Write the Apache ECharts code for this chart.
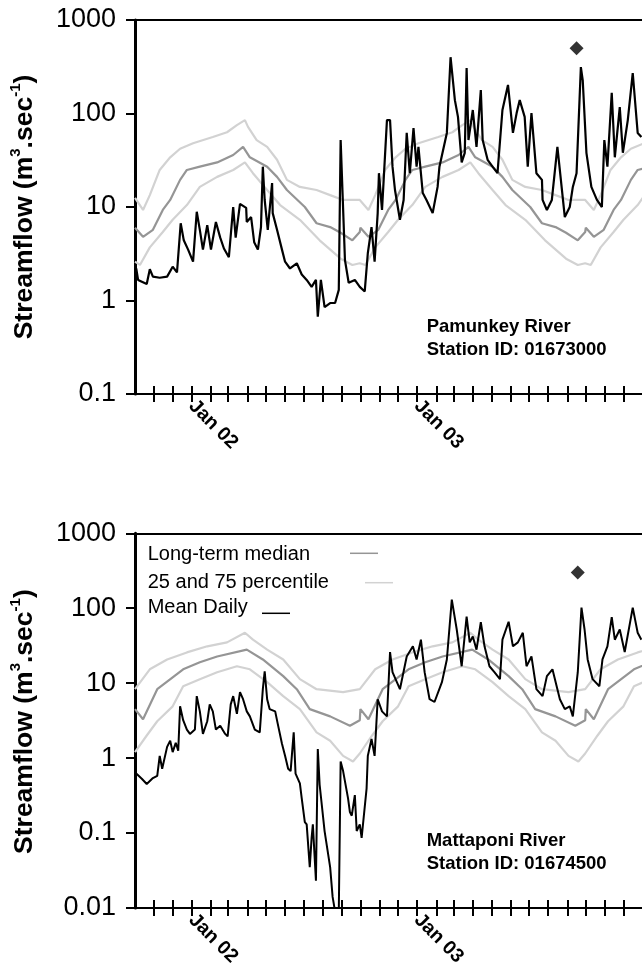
<!DOCTYPE html>
<html><head><meta charset="utf-8">
<script src="https://cdn.jsdelivr.net/npm/echarts@6/dist/echarts.min.js"></script>
<style>html,body{margin:0;padding:0;background:#fff}#c{width:642px;height:969px}</style>
</head><body><div id="c"></div><script>
// ---- time range: days since 2001-10-01 ----
const startDate = [2001, 9, 1];
const lastDay = 821;
const yearTicks = ['Jan 02', 'Jan 03'];

// ---- Pamunkey River, Station 01673000 ----
// long-term statistics, by day of water year (Oct 1 = 0)
const pamUpperDays = [0,13,24,40,57,73,94,126,149,165,178,183,197,214,230,246,267,294,316,337,364];
const pamUpperVals = [12.5,9.3,13.4,24.9,34,42,48,56,63,75,85,72,52,44,32,19.5,16.4,15.2,13.4,11.9,11.9];
const pamMedianDays = [0,13,29,45,57,73,84,105,133,159,175,186,214,230,246,275,294,316,333,352,364];
const pamMedianVals = [6.0,4.8,5.7,9.3,11.9,19.5,24.9,27,30,36,44,34,27,21,15.2,10,6.7,6.1,5.3,4.4,5.4];
const pamLowerDays = [0,8,24,45,61,84,105,133,159,178,191,214,235,267,299,333,352,364];
const pamLowerVals = [2.6,2.4,3.7,5.4,7.3,10.5,16.4,21,24.9,30,23,15.2,10.5,7.3,4.4,2.8,2.4,2.5];
// mean daily flow (day since 2001-10-01)
const pamMeanDays = [2,5,19,24,29,40,52,61,68,74,79,86,94,100,105,110,117,123,131,138,144,152,159,163,170,180,181,188,193,199,204,207,210,215,222,223,230,238,243,251,262,270,278,286,293,296,301,307,316,324,330,333,340,346,356,364,372,377,383,388,393,395,400,408,413,417,421,429,435,440,445,451,456,459,466,472,482,490,493,505,511,518,523,529,534,537,540,547,553,560,563,571,579,587,595,604,612,618,623,631,636,642,650,659,660,667,675,684,696,704,709,715,722,725,731,739,748,756,760,765,772,777,785,790,798,806,814,820];
const pamMeanVals = [2.2,1.66,1.5,2.16,1.8,1.75,1.8,2.3,2.0,6.7,4.4,3.5,2.6,8.9,5.7,3.5,6.4,3.5,6.9,4.7,3.6,2.9,10,4.7,10.8,9.8,6.9,7.8,4.2,3.5,6.1,27,11.9,5.7,18,8.6,5.7,3.5,2.6,2.2,2.5,1.9,1.66,1.4,1.66,0.67,1.66,0.85,0.94,0.94,1.3,52,2.7,1.55,1.66,1.4,1.25,3.2,6.1,2.6,8.6,23,9.3,85,85,27,15.2,7.3,11.9,62,23,70,27,44,14.1,11.9,8.6,16.4,27,62,400,139,92,30,38,307,52,109,44,178,52,32,27,23,109,202,62,101,139,92,27,101,23,19.5,11.9,9.3,11.9,44,7.8,10,16.4,23,314,228,38,16.4,11.9,10,52,27,166,34,117,38,85,271,62,56];
const pamPeakDay = [715];
const pamPeakVal = [500];

// ---- Mattaponi River, Station 01674500 ----
const matUpperDays = [0,24,52,84,117,149,178,191,214,240,267,294,337,364];
const matUpperVals = [8.3,15.3,20.7,25.7,31,35,47,38,28,20.7,11.3,8.3,7.6,8.3];
const matMedianDays = [0,13,36,78,105,133,181,207,240,262,283,316,348,364];
const matMedianVals = [4.5,3.3,8.3,15.3,19,22.7,28,20.7,12.4,8.3,4.5,3.6,2.7,3.2];
const matLowerDays = [0,19,36,61,78,105,133,165,186,214,240,267,294,316,337,353,364];
const matLowerVals = [1.2,2.0,3.1,4.9,9.1,11.3,14,16.8,15.3,10.3,6.7,4.5,2.2,1.7,1.07,0.9,1.15];
const matMeanDays = [2,11,19,29,36,40,44,52,57,60,61,66,70,73,78,84,89,97,100,105,110,117,121,126,131,138,146,150,155,159,165,170,175,181,186,194,202,207,210,214,218,227,231,238,243,248,252,257,260,267,270,275,278,283,286,288,293,296,299,307,316,320,325,330,333,337,345,348,351,356,359,364,367,375,377,383,388,393,400,408,413,417,429,440,450,456,463,469,477,485,497,505,513,521,529,537,542,547,553,560,566,574,582,591,595,605,612,620,628,634,642,650,660,667,676,688,696,704,709,717,723,728,733,741,752,757,765,772,777,785,793,806,814,820];
const matMeanVals = [0.62,0.53,0.45,0.54,0.58,1.07,0.72,1.41,1.7,1.8,1.2,1.6,1.25,4.9,3.2,2.4,2.1,2.4,6.7,4.2,2.1,3.1,5.2,4.2,2.4,2.7,2.1,1.95,5.2,6.7,3.9,7.6,6.1,4.2,3.6,2.4,2.2,8.3,14.4,6.1,4.5,4.2,2.9,1.55,1.07,0.72,0.67,2.2,0.62,0.46,0.29,0.14,0.13,0.035,0.086,0.13,0.023,1.32,0.44,0.106,0.035,0.014,0.008,0.009,0.9,0.67,0.29,0.19,0.17,0.32,0.106,0.13,0.086,0.39,1.07,1.8,1.07,6.1,4.2,3.6,26,14,8.3,22.7,31,20.7,38,14,6.1,5.6,10.3,20.7,130,52,16.8,77,35,42,28,65,31,16.8,14,11.3,38,66,31,35,47,16.8,22.7,8.3,6.7,12.4,15.3,6.1,4.5,4.9,3.6,14,102,52,20.7,11.3,9.1,20.7,31,76,38,52,26,102,47,38];
const matPeakDay = [717];
const matPeakVal = [300];

// ---- build ----
const DAY = 86400000;
const base = Date.UTC(startDate[0], startDate[1], startDate[2]);
const maxTs = base + lastDay * DAY;
function pairs(days, vals) { return days.map((d, i) => [base + d * DAY, vals[i]]); }
function climate(days, vals) {
  const out = [];
  for (let k = 0; k < 3; k++) days.forEach((d, i) => { out.push([base + (d + 365 * k) * DAY, vals[i]]); });
  return out;
}
const monthTicks = [], janTicks = [];
for (let y = 2001; y <= 2003; y++) for (let m = 0; m < 12; m++) {
  const t = Date.UTC(y, m, 1);
  if (t > base && t <= maxTs) { monthTicks.push(t); if (m === 0) janTicks.push(t); }
}
const FONT = 'Liberation Sans';
const LIGHT = '#d2d2d2', MID = '#959595';

function xAxes(g) {
  return [
    { type: 'value', gridIndex: g, position: 'bottom', min: base, max: maxTs,
      axisLine: { show: true, onZero: false, lineStyle: { color: '#000', width: 2 } },
      axisTick: { show: true, inside: false, length: 8, customValues: monthTicks, lineStyle: { color: '#000', width: 2 } },
      axisLabel: { show: true, customValues: janTicks, rotate: -45, margin: 9, color: '#000', fontFamily: FONT, fontWeight: 'bold', fontSize: 19.5,
        formatter: v => yearTicks[janTicks.indexOf(v)] || '' },
      splitLine: { show: false } },
    { type: 'value', gridIndex: g, position: 'bottom', min: base, max: maxTs,
      axisLine: { show: false, onZero: false },
      axisTick: { show: true, inside: true, length: 8, customValues: monthTicks, lineStyle: { color: '#000', width: 2 } },
      axisLabel: { show: false }, splitLine: { show: false } },
    { type: 'value', gridIndex: g, position: 'top', min: base, max: maxTs,
      axisLine: { show: true, onZero: false, lineStyle: { color: '#000', width: 2 } },
      axisTick: { show: false }, axisLabel: { show: false }, splitLine: { show: false } }
  ];
}
function yAxis(g, min) {
  return { type: 'log', logBase: 10, gridIndex: g, min: min, max: 1000,
    axisLine: { show: true, onZero: false, lineStyle: { color: '#000', width: 3 } },
    axisTick: { show: true, inside: false, length: 9, lineStyle: { color: '#000', width: 2 } },
    axisLabel: { color: '#000', fontFamily: FONT, fontSize: 27, margin: 19, formatter: v => String(Number(v.toPrecision(3))) },
    splitLine: { show: false }, minorTick: { show: false } };
}
function lines(xi, yi, up, md, lo, mean, pk, meanW) {
  const common = { type: 'line', xAxisIndex: xi, yAxisIndex: yi, showSymbol: false, symbol: 'none', animation: false, clip: true };
  return [
    Object.assign({}, common, { data: up, lineStyle: { color: LIGHT, width: 2.2 }, z: 2 }),
    Object.assign({}, common, { data: lo, lineStyle: { color: LIGHT, width: 2.2 }, z: 2 }),
    Object.assign({}, common, { data: md, lineStyle: { color: MID, width: 2.2 }, z: 3 }),
    Object.assign({}, common, { data: mean, lineStyle: { color: '#000', width: meanW }, z: 4 }),
    { type: 'scatter', xAxisIndex: xi, yAxisIndex: yi, data: pk, symbol: 'diamond', symbolSize: 14, itemStyle: { color: '#000' }, z: 5, animation: false }
  ];
}
const nameText = '{a|Streamflow (m}{s|3}{a|.sec}{s|-1}{a|)}';
const nameRich = { a: { fontFamily: FONT, fontSize: 26.5, fontWeight: 'bold', lineHeight: 30, verticalAlign: 'bottom' },
                   s: { fontFamily: FONT, fontSize: 15, fontWeight: 'bold', lineHeight: 30, verticalAlign: 'top' } };

const chart = echarts.init(document.getElementById('c'), null, { renderer: 'canvas' });
chart.setOption({
  backgroundColor: '#fff',
  animation: false,
  grid: [
    { left: 135, right: 0, top: 20, bottom: 575 },
    { left: 135, right: 0, top: 533.3, bottom: 59 }
  ],
  xAxis: xAxes(0).concat(xAxes(1)),
  yAxis: [yAxis(0, 0.1), yAxis(1, 0.01)],
  series: lines(0, 0, climate(pamUpperDays, pamUpperVals), climate(pamMedianDays, pamMedianVals), climate(pamLowerDays, pamLowerVals), pairs(pamMeanDays, pamMeanVals), pairs(pamPeakDay, pamPeakVal), 2.2)
    .concat(lines(3, 1, climate(matUpperDays, matUpperVals), climate(matMedianDays, matMedianVals), climate(matLowerDays, matLowerVals), pairs(matMeanDays, matMeanVals), pairs(matPeakDay, matPeakVal), 2)),
  graphic: [
    { type: 'text', x: 23, y: 207, rotation: Math.PI / 2, style: { text: nameText, rich: nameRich, align: 'center', verticalAlign: 'middle' } },
    { type: 'text', x: 23, y: 721.6, rotation: Math.PI / 2, style: { text: nameText, rich: nameRich, align: 'center', verticalAlign: 'middle' } },
    { type: 'text', x: 426.7, y: 315, style: { text: 'Pamunkey River\nStation ID: 01673000', fontFamily: FONT, fontSize: 18.5, fontWeight: 'bold', lineHeight: 23.3, fill: '#000', align: 'left', verticalAlign: 'top' } },
    { type: 'text', x: 426.7, y: 829, style: { text: 'Mattaponi River\nStation ID: 01674500', fontFamily: FONT, fontSize: 18.5, fontWeight: 'bold', lineHeight: 23.3, fill: '#000', align: 'left', verticalAlign: 'top' } },
    { type: 'text', x: 147.7, y: 554.5, style: { text: 'Long-term median', fontFamily: FONT, fontSize: 20, fill: '#000', align: 'left', verticalAlign: 'middle' } },
    { type: 'text', x: 147.7, y: 582, style: { text: '25 and 75 percentile', fontFamily: FONT, fontSize: 20, fill: '#000', align: 'left', verticalAlign: 'middle' } },
    { type: 'text', x: 147.7, y: 607, style: { text: 'Mean Daily', fontFamily: FONT, fontSize: 20, fill: '#000', align: 'left', verticalAlign: 'middle' } },
    { type: 'line', shape: { x1: 350, y1: 553.3, x2: 378, y2: 553.3 }, style: { stroke: MID, lineWidth: 1.5 } },
    { type: 'line', shape: { x1: 365, y1: 582.7, x2: 393, y2: 582.7 }, style: { stroke: LIGHT, lineWidth: 1.5 } },
    { type: 'line', shape: { x1: 262, y1: 613.3, x2: 290, y2: 613.3 }, style: { stroke: '#000', lineWidth: 1.5 } }
  ]
});
</script></body></html>
